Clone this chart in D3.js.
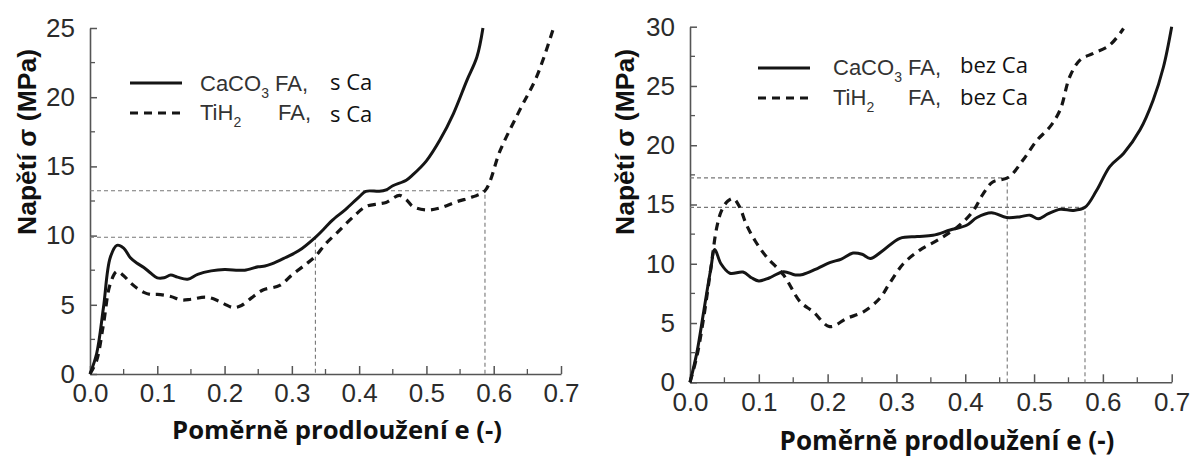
<!DOCTYPE html>
<html>
<head>
<meta charset="utf-8">
<script src="https://cdn.jsdelivr.net/npm/d3@7"></script>
<style>
  html, body { margin: 0; padding: 0; background: #fff; }
  svg { display: block; }
</style>
</head>
<body>
<svg id="chart" width="1198" height="457"></svg>
<script>
// ---------- DATA ----------
const xTicks = [0.0, 0.1, 0.2, 0.3, 0.4, 0.5, 0.6, 0.7];
const leftYTicks = [0, 5, 10, 15, 20, 25];
const rightYTicks = [0, 5, 10, 15, 20, 25, 30];

// Left chart: s Ca
const leftCaE = [0,0.01,0.02,0.03,0.04,0.05,0.06,0.07,0.08,0.09,0.10,0.11,0.12,0.13,0.145,0.16,0.18,0.20,0.22,0.23,0.25,0.26,0.27,0.29,0.31,0.335,0.35,0.36,0.38,0.40,0.41,0.43,0.44,0.45,0.47,0.48,0.50,0.52,0.54,0.56,0.575,0.584];
const leftCaS = [0,1.5,4.8,8.4,9.3,9.1,8.4,8.0,7.7,7.3,6.95,6.95,7.15,7.0,6.85,7.2,7.45,7.55,7.5,7.5,7.75,7.8,7.95,8.4,8.9,9.88,10.6,11.1,11.9,12.8,13.2,13.2,13.3,13.6,14.0,14.4,15.4,16.9,18.8,21.2,22.9,25.0];
const leftTiE = [0,0.01,0.02,0.03,0.04,0.05,0.06,0.07,0.08,0.09,0.10,0.12,0.136,0.15,0.173,0.19,0.20,0.213,0.225,0.24,0.257,0.282,0.30,0.32,0.335,0.35,0.367,0.39,0.41,0.43,0.44,0.46,0.47,0.48,0.50,0.52,0.545,0.569,0.587,0.61,0.639,0.664,0.688];
const leftTiS = [0,1.0,3.6,6.5,7.4,7.1,6.6,6.2,5.9,5.75,5.75,5.6,5.35,5.4,5.55,5.3,5.05,4.8,4.95,5.5,6.07,6.4,7.15,7.9,8.5,9.4,10.2,11.3,12.1,12.3,12.4,12.9,12.6,12.1,11.85,12.0,12.45,12.8,13.24,16.2,19.1,21.5,24.86];
const leftRefE = [0.335, 0.587];
const leftRefS = [9.88, 13.24];

// Right chart: bez Ca
const rightCaE = [0,0.01,0.02,0.03,0.036,0.045,0.058,0.077,0.09,0.10,0.115,0.136,0.153,0.164,0.185,0.203,0.22,0.237,0.25,0.262,0.28,0.305,0.33,0.353,0.378,0.402,0.417,0.438,0.46,0.48,0.494,0.506,0.52,0.538,0.557,0.574,0.591,0.61,0.63,0.654,0.673,0.688,0.70];
const rightCaS = [0,2.5,6,9.5,11.2,10.0,9.2,9.3,8.8,8.55,8.8,9.33,9.05,9.1,9.6,10.1,10.4,10.9,10.8,10.45,11.1,12.15,12.3,12.4,12.85,13.25,13.9,14.3,13.9,13.97,14.1,13.8,14.2,14.6,14.5,14.76,16.2,18.2,19.3,21.3,23.8,26.6,30.0];
const rightTiE = [0,0.01,0.02,0.03,0.039,0.046,0.055,0.063,0.072,0.082,0.095,0.111,0.136,0.16,0.179,0.203,0.228,0.252,0.276,0.29,0.31,0.334,0.363,0.392,0.412,0.426,0.44,0.463,0.484,0.504,0.523,0.538,0.552,0.567,0.586,0.61,0.63];
const rightTiS = [0,2.2,5.5,9.5,13.1,14.5,15.3,15.5,14.8,13.3,11.9,10.6,9.05,6.8,5.95,4.7,5.4,5.95,7.1,8.35,10.0,11.15,12.1,13.27,14.5,15.9,16.9,17.3,18.75,20.4,21.55,23.0,25.8,27.2,27.75,28.45,29.85];
const rightRefE = [0.461, 0.574];
const rightRefS = [17.25, 14.76];

const yTitle = "Napětí σ (MPa)";
const xTitle = "Poměrně prodloužení e (-)";
const legendLeft = [
  { main: "CaCO", sub: "3", mid: " FA,", tail: "s Ca", dashed: false },
  { main: "TiH", sub: "2", mid: "FA,", tail: "s Ca", dashed: true }
];
const legendRight = [
  { main: "CaCO", sub: "3", mid: " FA,", tail: "bez Ca", dashed: false },
  { main: "TiH", sub: "2", mid: "FA,", tail: "bez Ca", dashed: true }
];

// ---------- DRAW ----------
const svg = d3.select("#chart");
const tickFont = "'Liberation Sans', Arial, Helvetica, sans-serif";

function panel(cfg) {
  const x = d3.scaleLinear().domain([0, 0.7]).range(cfg.xr);
  const y = d3.scaleLinear().domain([0, cfg.ymax]).range(cfg.yr);
  const g = svg.append("g");

  // minor ticks
  const xMinor = d3.range(0.05, 0.7, 0.1);
  const yMinor = d3.range(2.5, cfg.ymax, 5);

  const xAxis = d3.axisBottom(x).tickValues(xTicks).tickFormat(d3.format(".1f")).tickSizeInner(-8).tickSizeOuter(0).tickPadding(14);
  const gx = g.append("g").attr("transform", `translate(0,${cfg.yr[0]})`).call(xAxis);
  gx.select(".domain").attr("stroke", "#555").attr("stroke-width", 1.6);
  gx.selectAll(".tick line").attr("stroke", "#555").attr("stroke-width", 1.5);
  gx.selectAll(".tick text").attr("font-family", tickFont).attr("font-size", 26).attr("fill", "#2b2b2b").attr("dy", "0.55em");
  g.append("g").selectAll("line").data(xMinor).join("line")
    .attr("x1", d => x(d)).attr("x2", d => x(d))
    .attr("y1", cfg.yr[0]).attr("y2", cfg.yr[0] - 5)
    .attr("stroke", "#555").attr("stroke-width", 1.3);

  const yAxis = d3.axisLeft(y).tickValues(cfg.yticks).tickFormat(d3.format("d")).tickSizeInner(-7).tickSizeOuter(0).tickPadding(15);
  const gy = g.append("g").attr("transform", `translate(${cfg.xr[0]},0)`).call(yAxis);
  gy.select(".domain").attr("stroke", "#555").attr("stroke-width", 1.6);
  gy.selectAll(".tick line").attr("stroke", "#555").attr("stroke-width", 1.5);
  gy.selectAll(".tick text").attr("font-family", tickFont).attr("font-size", 26).attr("fill", "#2b2b2b");
  g.append("g").selectAll("line").data(yMinor).join("line")
    .attr("x1", cfg.xr[0]).attr("x2", cfg.xr[0] + 5)
    .attr("y1", d => y(d)).attr("y2", d => y(d))
    .attr("stroke", "#555").attr("stroke-width", 1.3);

  // reference dashed lines
  const ref = g.append("g").attr("stroke", "#777").attr("stroke-width", 1.1).attr("stroke-dasharray", "4,3").attr("fill", "none");
  cfg.refE.forEach((e, i) => {
    const s = cfg.refS[i];
    ref.append("path").attr("d", `M${x(0)},${y(s)}H${x(e)}V${y(0)}`);
  });

  // curves
  const line = d3.line().x(d => x(d[0])).y(d => y(d[1])).curve(d3.curveCatmullRom.alpha(0.5));
  g.append("path").datum(d3.zip(cfg.caE, cfg.caS)).attr("d", line)
    .attr("fill", "none").attr("stroke", "#151515").attr("stroke-width", 3).attr("stroke-linejoin", "round");
  g.append("path").datum(d3.zip(cfg.tiE, cfg.tiS)).attr("d", line)
    .attr("fill", "none").attr("stroke", "#151515").attr("stroke-width", 3.2).attr("stroke-dasharray", "8,6");

  // legend
  const lg = g.append("g");
  cfg.legend.forEach((it, i) => {
    const L = cfg.leg[i];
    lg.append("line").attr("x1", L.lx1).attr("x2", L.lx2).attr("y1", L.ly).attr("y2", L.ly)
      .attr("stroke", "#151515").attr("stroke-width", 3.2)
      .attr("stroke-dasharray", it.dashed ? "8,6" : null);
    const t = lg.append("text").attr("x", L.tx).attr("y", L.tb)
      .attr("font-family", tickFont).attr("font-size", 22).attr("fill", "#333");
    t.append("tspan").text(it.main);
    t.append("tspan").attr("font-size", 14).attr("dy", 7).text(it.sub);
    if (L.midx != null) {
      lg.append("text").attr("x", L.midx).attr("y", L.tb).attr("font-family", tickFont)
        .attr("font-size", 22).attr("fill", "#333").text(it.mid);
    } else {
      t.append("tspan").attr("dy", -7).attr("font-size", 22).text(it.mid);
    }
    lg.append("text").attr("x", L.tailx).attr("y", L.tailb)
      .attr("font-family", "'Open Sans', sans-serif").attr("font-size", 22).attr("fill", "#111").text(it.tail);
  });

  // axis titles
  const yt = svg.append("text").attr("transform", `translate(${cfg.ytx},${cfg.yty}) rotate(-90)`)
    .attr("text-anchor", "middle").attr("font-family", "'Liberation Sans', Arial, sans-serif")
    .attr("font-weight", "bold").attr("font-size", 26).attr("fill", "#111").attr("dy", "0.35em").text(yTitle);
  const xt = svg.append("text").attr("x", cfg.xtx).attr("y", cfg.xtb)
    .attr("text-anchor", "middle").attr("font-family", "'Open Sans', sans-serif")
    .attr("font-weight", "bold").attr("font-size", 24).attr("fill", "#111").text(xTitle);
  // fit title widths to measured extents
  const wx = xt.node().getComputedTextLength();
  xt.attr("font-size", 24 * cfg.xtw / wx);
  const wy = yt.node().getComputedTextLength();
  yt.attr("font-size", 26 * 186 / wy);
}

panel({
  xr: [90, 561], yr: [374, 28], ymax: 25, yticks: leftYTicks,
  caE: leftCaE, caS: leftCaS, tiE: leftTiE, tiS: leftTiS,
  refE: leftRefE, refS: leftRefS,
  legend: legendLeft,
  leg: [
    { lx1: 130, lx2: 182, ly: 83, tx: 200, tb: 91, tailx: 330, tailb: 90 },
    { lx1: 130, lx2: 182, ly: 113, tx: 200, tb: 120, midx: 278, tailx: 330, tailb: 122 }
  ],
  ytx: 27, yty: 142, xtx: 337, xtb: 439, xtw: 330
});

panel({
  xr: [690, 1171.7], yr: [382.3, 26.7], ymax: 30, yticks: rightYTicks,
  caE: rightCaE, caS: rightCaS, tiE: rightTiE, tiS: rightTiS,
  refE: rightRefE, refS: rightRefS,
  legend: legendRight,
  leg: [
    { lx1: 758, lx2: 810, ly: 68, tx: 833, tb: 75, tailx: 960, tailb: 73 },
    { lx1: 758, lx2: 810, ly: 98, tx: 833, tb: 105, midx: 908, tailx: 960, tailb: 105 }
  ],
  ytx: 625, yty: 142, xtx: 947, xtb: 450, xtw: 335
});
</script>
</body>
</html>
